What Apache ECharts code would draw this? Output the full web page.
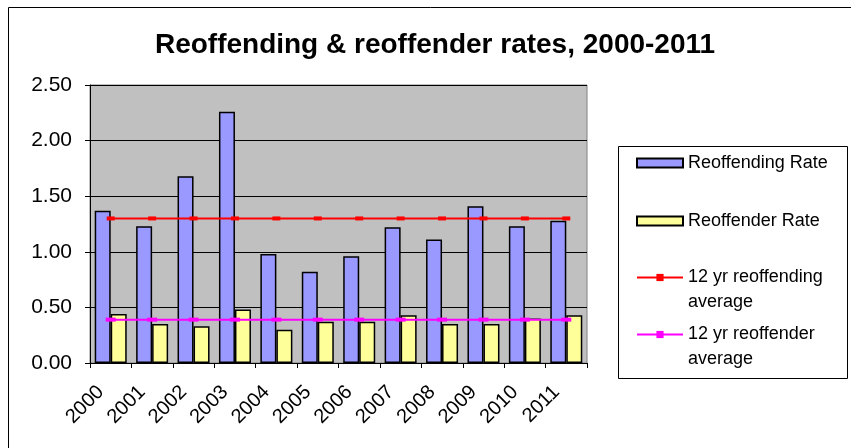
<!DOCTYPE html>
<html>
<head>
<meta charset="utf-8">
<script src="https://cdn.jsdelivr.net/npm/echarts@6/dist/echarts.min.js"></script>
<style>
html,body{margin:0;padding:0;background:#fff;}
#chart{width:851px;height:448px;}
</style>
</head>
<body>
<div id="chart"></div>
<script>
var years = ['2000','2001','2002','2003','2004','2005','2006','2007','2008','2009','2010','2011'];
var reoffendingRate = [1.37,1.23,1.68,2.26,0.98,0.82,0.96,1.22,1.11,1.41,1.23,1.28];
var reoffenderRate = [0.44,0.35,0.33,0.48,0.30,0.37,0.37,0.43,0.35,0.35,0.40,0.43];
var reoffendingAvg = [1.30,1.30,1.30,1.30,1.30,1.30,1.30,1.30,1.30,1.30,1.30,1.30];
var reoffenderAvg = [0.39,0.39,0.39,0.39,0.39,0.39,0.39,0.39,0.39,0.39,0.39,0.39];
var seriesNames = ['Reoffending Rate','Reoffender Rate','12 yr reoffending average','12 yr reoffender average'];
var legendLabels = {
  'Reoffending Rate':'Reoffending Rate',
  'Reoffender Rate':'Reoffender Rate',
  '12 yr reoffending average':'\u00a0\n12 yr reoffending\naverage',
  '12 yr reoffender average':'\u00a0\n12 yr reoffender\naverage'
};

var FONT = '"Liberation Sans", Arial, sans-serif';
var chart = echarts.init(document.getElementById('chart'), null, {renderer:'canvas'});

function mkLegend(name, top, multi) {
  return {
    data:[multi ? {name:name} : {name:name, icon:'rect'}],
    orient:'vertical',
    left:636, top:top,
    padding:0,
    itemWidth:46, itemHeight:9,
    selectedMode:false,
    formatter:function(n){return legendLabels[n];},
    textStyle: multi ? {fontFamily:FONT,fontSize:18,color:'#000',lineHeight:25}
                     : {fontFamily:FONT,fontSize:18,color:'#000'}
  };
}

var option = {
  animation:false,
  backgroundColor:'#fff',
  title:{
    text:'Reoffending & reoffender rates, 2000-2011',
    left:430, top:26, textAlign:'center',
    textStyle:{fontFamily:FONT,fontSize:28,fontWeight:'bold',color:'#000'}
  },
  graphic:[
    {type:'rect',shape:{x:8.5,y:7.5,width:900,height:500},style:{fill:null,stroke:'#000',lineWidth:1},silent:true,z:-1},
    {type:'rect',shape:{x:618.5,y:146.5,width:229,height:232},style:{fill:'#fff',stroke:'#000',lineWidth:1},silent:true,z:-1}
  ],
  legend:[
    mkLegend(seriesNames[0],154),
    mkLegend(seriesNames[1],212),
    mkLegend(seriesNames[2],240,true),
    mkLegend(seriesNames[3],297,true)
  ],
  grid:{
    left:90, right:264, top:85, bottom:85,
    show:true, backgroundColor:'#C0C0C0', borderColor:'#808080', borderWidth:1
  },
  xAxis:{
    type:'category', data:years,
    axisLine:{lineStyle:{color:'#000',width:1}},
    axisTick:{show:true,inside:false,length:5,lineStyle:{color:'#000'}},
    axisLabel:{rotate:45,margin:16,padding:[0,14,0,0],fontFamily:FONT,fontSize:20,color:'#000'},
    splitLine:{show:false}
  },
  yAxis:{
    type:'value', min:0, max:2.5, interval:0.5,
    axisLine:{show:true,lineStyle:{color:'#000',width:1}},
    axisTick:{show:true,inside:false,length:5,lineStyle:{color:'#000'}},
    axisLabel:{margin:18,fontFamily:FONT,fontSize:21,color:'#000',formatter:function(v){return v.toFixed(2);}},
    splitLine:{show:true,lineStyle:{color:'#000',width:1}}
  },
  series:[
    {name:seriesNames[0],type:'bar',data:reoffendingRate,barWidth:16,barGap:'0%',
     itemStyle:{color:'#9999FF',borderColor:'#000',borderWidth:1.5}},
    {name:seriesNames[1],type:'bar',data:reoffenderRate,barWidth:16,barGap:'0%',
     itemStyle:{color:'#FFFF99',borderColor:'#000',borderWidth:1.5}},
    {name:seriesNames[2],type:'line',data:reoffendingAvg,symbol:'rect',symbolSize:[8,4],
     lineStyle:{color:'#FF0000',width:2},itemStyle:{color:'#FF0000'},z:5},
    {name:seriesNames[3],type:'line',data:reoffenderAvg,symbol:'rect',symbolSize:[10,4],
     lineStyle:{color:'#FF00FF',width:2},itemStyle:{color:'#FF00FF'},z:5}
  ]
};
chart.setOption(option);
</script>
</body>
</html>
